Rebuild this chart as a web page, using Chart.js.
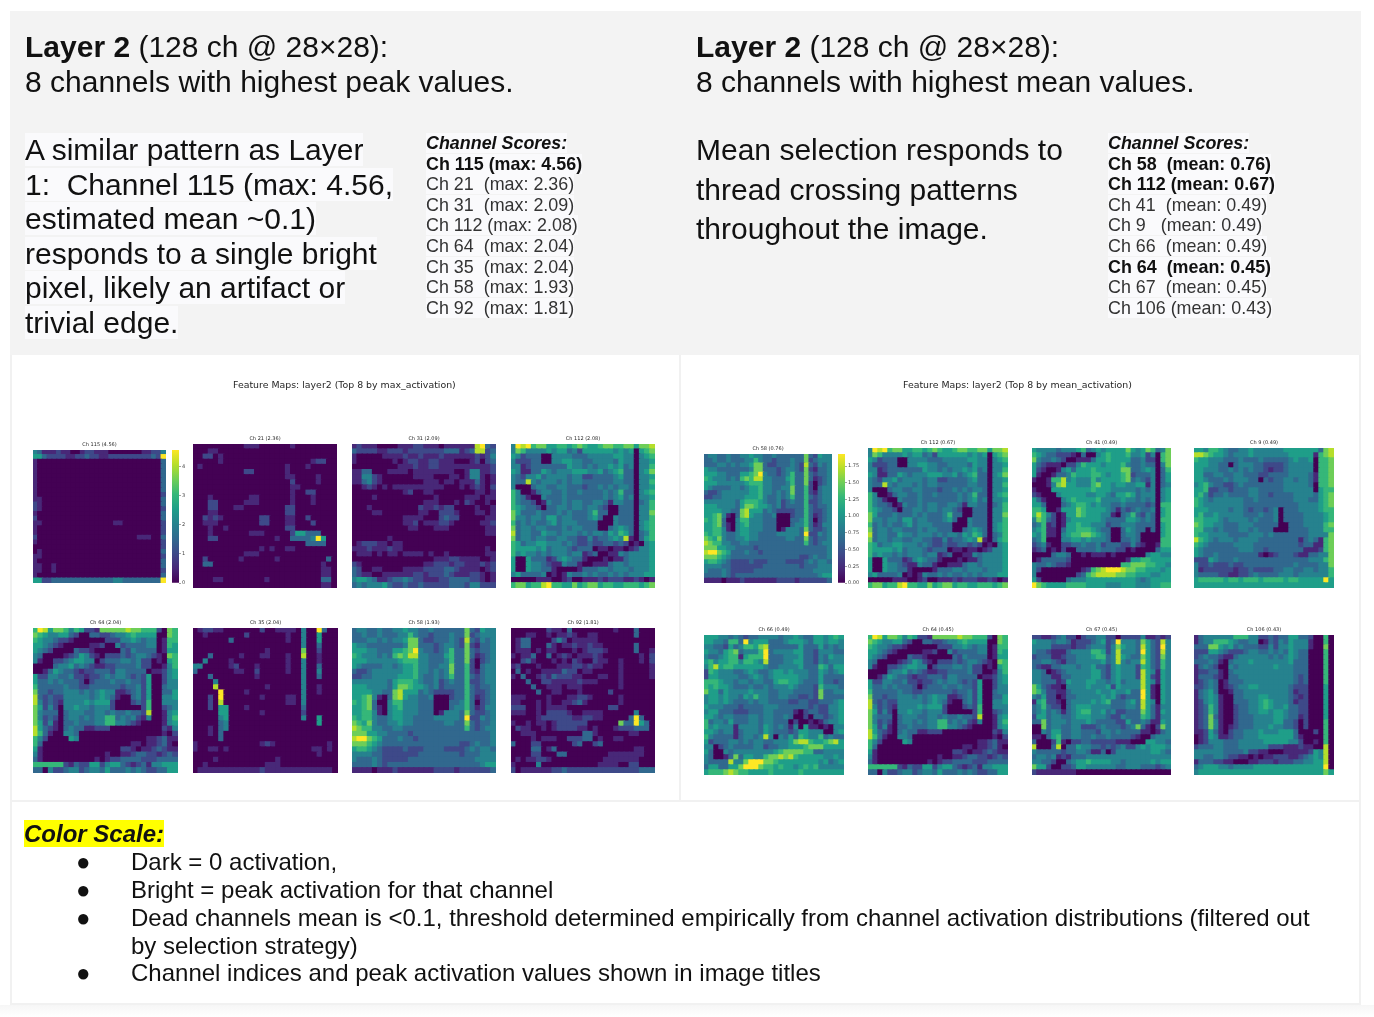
<!DOCTYPE html>
<html lang="en">
<head>
<meta charset="UTF-8">
<title>Layer 2 feature maps</title>
<script src="https://cdn.jsdelivr.net/npm/chart.js"></script>
<style>
  html, body { margin: 0; padding: 0; background: #fff; }
  body { position: relative; width: 1374px; height: 1017px; overflow: hidden; font-family: "Liberation Sans", Arial, sans-serif; color: #111; }
  .box { position: absolute; box-sizing: border-box; }
  .txt { position: absolute; white-space: pre; filter: blur(0.25px); }
  .txt span.w { background: #fafafc; }
  canvas { position: absolute; filter: blur(0.45px); }
  .head { font-size: 30px; line-height: 35px; }
  .body1 { font-size: 30px; line-height: 34.5px; }
  .body2 { font-size: 30px; line-height: 39.5px; }
  .scores { font-size: 17.9px; line-height: 20.6px; color: #333; }
  .scores span { background: #fafafc; }
  .scores b { color: #111; }
  .suptitle { font-family: "DejaVu Sans", sans-serif; font-size: 9.4px; color: #262626; filter: blur(0.3px); }
  .legend { font-size: 24px; line-height: 27.6px; }
</style>
</head>
<body>

<div class="box" style="left:10px;top:11px;width:1351px;height:344px;background:#f3f3f3"></div>
<div class="box" style="left:10px;top:355px;width:671px;height:447px;border:2px solid #f1f1f1;border-top:0"></div>
<div class="box" style="left:680px;top:355px;width:681px;height:447px;border:2px solid #f1f1f1;border-top:0;border-left:0"></div>
<div class="box" style="left:10px;top:801px;width:1351px;height:204px;border:2px solid #f1f1f1;border-top:0"></div>
<div class="box" style="left:0;top:1005px;width:1374px;height:12px;background:linear-gradient(#f6f6f6,#fff)"></div>

<div class="txt head" style="left:25px;top:29px"><b>Layer 2</b> (128 ch @ 28×28):
8 channels with highest peak values.</div>
<div class="txt head" style="left:696px;top:29px"><b>Layer 2</b> (128 ch @ 28×28):
8 channels with highest mean values.</div>

<div class="txt body1" style="left:25px;top:133px"><span class="w">A similar pattern as Layer</span>
<span class="w">1:  Channel 115 (max: 4.56,</span>
<span class="w">estimated mean ~0.1)</span>
<span class="w">responds to a single bright</span>
<span class="w">pixel, likely an artifact or</span>
<span class="w">trivial edge.</span></div>
<div class="txt body2" style="left:696px;top:130px">Mean selection responds to
thread crossing patterns
throughout the image.</div>

<div class="txt scores" style="left:426px;top:133px"><span><b><i>Channel Scores:</i></b></span>
<span><b>Ch 115 (max: 4.56)</b></span>
<span>Ch 21  (max: 2.36)</span>
<span>Ch 31  (max: 2.09)</span>
<span>Ch 112 (max: 2.08)</span>
<span>Ch 64  (max: 2.04)</span>
<span>Ch 35  (max: 2.04)</span>
<span>Ch 58  (max: 1.93)</span>
<span>Ch 92  (max: 1.81)</span></div>
<div class="txt scores" style="left:1108px;top:133px"><span><b><i>Channel Scores:</i></b></span>
<span><b>Ch 58  (mean: 0.76)</b></span>
<span><b>Ch 112 (mean: 0.67)</b></span>
<span>Ch 41  (mean: 0.49)</span>
<span>Ch 9   (mean: 0.49)</span>
<span>Ch 66  (mean: 0.49)</span>
<span><b>Ch 64  (mean: 0.45)</b></span>
<span>Ch 67  (mean: 0.45)</span>
<span>Ch 106 (mean: 0.43)</span></div>

<div class="txt suptitle" style="left:233px;top:379px">Feature Maps: layer2 (Top 8 by max_activation)</div>
<div class="txt suptitle" style="left:903px;top:379px">Feature Maps: layer2 (Top 8 by mean_activation)</div>

<div class="txt legend" style="left:24px;top:820px"><b><i style="background:#ffff00">Color Scale:</i></b></div>
<div class="txt legend" style="left:76px;top:848px">●</div>
<div class="txt legend" style="left:131px;top:848px">Dark = 0 activation,</div>
<div class="txt legend" style="left:76px;top:876px">●</div>
<div class="txt legend" style="left:131px;top:876px">Bright = peak activation for that channel</div>
<div class="txt legend" style="left:76px;top:904px">●</div>
<div class="txt legend" style="left:131px;top:904px">Dead channels mean is &lt;0.1, threshold determined empirically from channel activation distributions (filtered out
by selection strategy)</div>
<div class="txt legend" style="left:76px;top:959px">●</div>
<div class="txt legend" style="left:131px;top:959px">Channel indices and peak activation values shown in image titles</div>

<script>
// each row is 28 cells, one digit per cell: 0 = darkest .. 9 = channel peak
const ch115 = [
"4311121 1001221 1100000 0011224",
"5532222 1122322 1122222 2222329",
"1000000 0000000 0000000 0000003",
"1000000 0000000 0000000 0000003",
"1000000 0000000 0000000 0000003",
"1000000 0000000 0000000 0000003",
"1000000 0000000 0000000 0000003",
"1000000 0000000 0000000 0000003",
"1000000 0000000 0000000 0000003",
"1000000 0000000 0000000 0000002",
"1100000 0000000 0000000 0000003",
"2100000 0000000 0000000 0000003",
"2100000 0000000 0000000 0000002",
"1000000 0000000 0000000 0000003",
"2000000 0000000 0000000 0000003",
"1100000 0000000 0001100 0000002",
"1000000 0000000 0000000 0000002",
"1000000 0000000 0000000 0000002",
"2000000 0000000 0000000 0111003",
"1000000 0000000 0000000 0000002",
"0000000 0000000 0000000 0000002",
"0100000 0000000 0000000 0000003",
"1100000 0000000 0000000 0000002",
"1000000 0000000 0000000 0000003",
"1100100 0000000 0000000 0000003",
"1100100 0000000 0000000 0000002",
"1000000 0000000 0000000 0000003",
"5522333 3333333 3334433 3333339"];
const ch21 = [
"0000000 0001110 0000010 0000000",
"0001100 0000000 0000000 0000000",
"0022010 0000000 0000000 0000000",
"0000010 0000000 0000000 0012200",
"0100000 0000000 0000100 0100000",
"0000000 0002200 0000100 0000000",
"0000000 0000000 0000110 0001000",
"0000000 0000000 0000020 0001000",
"0000000 0000000 0000011 0000000",
"0000000 0000000 0000010 0220000",
"0001000 0000110 0000010 0010000",
"0002200 0001110 0000010 0010000",
"0002200 0110000 0000220 0000000",
"0001100 0000000 0000220 0000000",
"0021210 0000002 2000110 0200000",
"0011100 0000002 2000110 0020000",
"0001001 0000000 0000220 0000000",
"0001000 0000111 0000025 5333000",
"0002200 0000000 0010033 3349500",
"0000000 0000000 0000000 0333300",
"0000000 0000001 0100110 0000000",
"0000000 0001110 0000000 0000000",
"0020000 0010000 0010000 0000030",
"0033000 0000000 0000000 0000100",
"0000000 0000000 0000000 0000110",
"0000000 0000000 0000000 0000110",
"0000110 0000000 1000000 0000330",
"0000000 0000000 0000000 0000110"];
const ch31 = [
"1211100 0011122 1110111 1118932",
"3222211 2221222 2222333 1238823",
"1000001 1112112 1112111 1112124",
"1000000 0101221 1221110 0012023",
"0000000 0011121 1221111 1111112",
"1133000 1111011 1111110 0144112",
"1144210 0000011 1100011 0144101",
"1134210 0000000 1110110 1113101",
"0012101 0111111 1111000 1012102",
"0000000 0001200 1100000 0001101",
"0000100 0000000 0010000 0111011",
"0000000 0000000 1110001 0210010",
"0001000 0000002 1121220 0001001",
"0000110 0000001 1002221 0001101",
"0000000 0001111 0002322 0000011",
"0000000 0001120 1112210 0000112",
"0000000 0000110 0011100 0000011",
"0000000 0000000 0000000 0000011",
"0000000 1000000 0000000 0000000",
"0122211 0110000 0000000 0000000",
"1112111 2110000 0000000 0000010",
"0111010 1101111 0100100 0000011",
"0000000 0000000 0011122 1111001",
"2100000 0000000 1122212 2111212",
"3200110 0001111 2222332 1111012",
"3211001 1111122 1222321 1122101",
"4554311 2334322 1112233 3322101",
"3434445 3223223 2222233 3244222"];
const ch112 = [
"4989677 5566567 6556776 6775778",
"4764444 5455342 5555554 5450567",
"5423330 0444433 3444445 5440456",
"4222330 0445544 3344443 5440445",
"4412333 3333544 3434454 5340446",
"5411335 4344455 5445345 6330457",
"4324453 4444344 2233334 5330445",
"4338434 4434344 3333334 4330446",
"4000344 3344333 2334343 4430445",
"6400134 4334334 3333434 6330456",
"6431004 3334333 3333434 5340445",
"6433201 4334344 3344314 4330346",
"6543320 3344344 3443200 3330446",
"7533343 3343433 3463300 3330447",
"7443443 5534433 3453004 3330446",
"6343433 4534443 3330004 3330456",
"7344344 3334344 3330034 5430456",
"8344335 4434443 4344354 6530346",
"7344344 3344332 2423345 4810356",
"6534455 4443432 2322332 3201045",
"6555545 3444323 3301101 1012445",
"6454434 3444344 1230011 4344445",
"5005333 1245433 1000101 1344445",
"5005443 2114331 0011134 4344445",
"5005443 3100001 3334434 4434445",
"4533334 0101433 4343343 4344455",
"0000011 1001200 1112122 2112101",
"6775668 9665575 6775665 5666567"];
const ch64 = [
"6985776 4652217 7777877 6662076",
"7654455 3200332 2344565 5550076",
"6544322 1000000 2224454 3440166",
"5543210 0000112 0042333 3440165",
"5432000 0322100 0003243 3330155",
"4300001 2354210 2223234 4321076",
"4100223 4554402 3334434 2201056",
"0000344 5343211 2233334 2200146",
"0013543 3212233 3244333 3011245",
"5224433 4221223 4344323 2500245",
"5334343 3320233 3433433 2500244",
"6333334 3322333 3332334 2500344",
"7332334 4434345 4411234 2500335",
"8323224 4444345 4310034 2500445",
"8423214 4445455 5200023 2600444",
"7524204 4544344 4200000 2600234",
"7433303 4443344 3433433 2800145",
"7423203 4434344 6634342 1400146",
"7524103 3433344 6644321 0000145",
"8532103 4331122 2000000 0000214",
"8631004 4300000 0000000 0000102",
"6420000 5400000 0000000 0112311",
"6300000 0000000 0000011 0112310",
"5100000 0000000 0002210 1123211",
"4100000 0000000 1001123 3221232",
"3100000 0000010 1223333 2223333",
"6666662 1322552 4553212 3144555",
"3304223 4423443 5333434 3223355"];
const ch35 = [
"0122110 0000002 0011110 4009300",
"0010000 0002000 0000100 4005000",
"0000000 3000000 0000100 4005000",
"0000000 0000000 0000000 4003000",
"0000000 0000000 1000000 7002000",
"0003000 0010001 1000100 8001000",
"0040000 1000000 0000100 4001000",
"4400000 1200010 0000100 4003000",
"3000000 0110020 0000100 4004000",
"0003000 0000010 0000000 4003000",
"0000400 0000000 0000000 4000000",
"0000800 0000000 1000000 4001000",
"0000090 0001000 0000000 4001000",
"0002090 0000001 0000110 4000000",
"0002080 0000000 0000110 4000000",
"0002055 0001000 0000000 3000000",
"0000055 0000001 0000000 2000000",
"0000045 0000000 0000000 4005000",
"0000034 0000000 0000000 0005000",
"0001034 0000000 0000000 0000000",
"0001030 0000000 0000000 0000000",
"0000030 0000000 0000000 0000000",
"1000000 0000001 2100000 0000010",
"1001101 0000000 0000000 0011010",
"0000000 0000000 0000000 0001000",
"0000100 0000000 0010000 0000000",
"0010000 0000000 1110000 0000000",
"0111111 1111112 1111111 1111110"];
const ch58 = [
"3443343 3445443 3433333 3732544",
"3343343 3344643 3233343 3723444",
"3334434 3445773 2233343 2832434",
"5443333 3334773 3323443 2721334",
"5554433 3556794 3323463 3732334",
"6544434 3676884 4333563 3731234",
"5554444 4456664 4333463 3720234",
"5433334 4345564 4334473 3620344",
"3223444 4445564 4343473 3621344",
"2233444 4455564 3343463 3632344",
"4444444 3566654 3342343 3622344",
"5554444 3577655 4342333 3632334",
"5555443 3785553 4322223 3632234",
"5567410 3785443 3400023 3631234",
"6567300 4664443 3300033 4630234",
"5567310 4564443 3300034 4631244",
"5566410 4554443 3301444 3732234",
"6566433 4554433 3344444 3922434",
"7657433 4454433 3333443 3732334",
"8766443 3443333 3333333 3632344",
"7775544 3333233 3333333 3333334",
"8997653 3343323 3333333 3333334",
"7776543 3333333 3333333 2234334",
"5665432 2223222 3333222 2343443",
"4444332 2222223 3333333 2333444",
"4333432 2222333 3333333 3334444",
"3333432 3333333 3333333 3333455",
"1111011 1211111 1122221 2222223"];
const ch92 = [
"0000000 2110300 0000001 0003000",
"0001100 1011210 0110000 0003000",
"0133000 0242011 1110000 0000000",
"0133000 3101121 1211000 0003000",
"0111010 1100010 1222100 0003001",
"1011300 3012101 1121000 0000102",
"0023100 0101021 0021100 1000102",
"1200010 0011122 1211000 1000001",
"0301001 1113220 1100000 1000001",
"1030012 1322211 0001100 1000001",
"0003002 2111112 1110000 1000000",
"0000300 1110111 0000000 1000000",
"0000030 0110001 0000020 0000000",
"1110000 1000112 2100000 1000000",
"1100010 1001123 1000000 1000000",
"2220010 1111000 0000022 0000000",
"1110010 2222100 1111000 0004000",
"0000012 2222211 2211000 0039300",
"1001011 0122222 2000000 7339530",
"0211001 0122221 1010001 2223330",
"0011100 0000000 3310000 0011000",
"0000101 1100222 3301001 1000000",
"3000220 0000023 0023000 0000000",
"0000330 1300000 0000000 0001100",
"0000220 0033000 0000011 1111100",
"0101122 1000000 0000111 1111000",
"1000040 0000000 0001111 0022000",
"2011111 1223222 2222222 2222333"];
const ch41 = [
"5444434 4456345 4555575 4576347",
"6543322 2103004 5655564 4524067",
"7433432 0011135 5655553 3422067",
"5321110 2246555 4555643 3433047",
"5210014 5355565 5555773 3454036",
"5100133 4655566 5455672 3334035",
"1001668 4544464 5555673 4324035",
"0001478 5544467 5545544 5514034",
"1000555 5555565 5544444 3434045",
"2100045 5555445 5435565 3444045",
"5310004 5655556 4444544 3434045",
"5530003 4566545 4433433 3323066",
"6650015 5576555 5431323 4334056",
"6864201 5576555 4410346 3243056",
"4763201 4555555 4333355 4343066",
"3461201 5565544 4233444 3333056",
"4561103 5566654 3300354 3303056",
"5461104 5667765 4300344 3000056",
"3460004 4554544 4300334 3000066",
"2341002 2334334 2333224 2100166",
"1230102 0033334 3332201 0000355",
"0000344 3001011 1010000 0045544",
"0133333 2000000 0000015 5665555",
"4334322 1000000 0000667 7766554",
"4200000 0001267 8999877 6655545",
"4000000 0023678 8887766 5554455",
"5200000 3444555 5555555 4345555",
"9765555 6666555 5444555 4445566"];
const ch9 = [
"5546654 3344544 4444555 5555378",
"8876554 3444544 4444455 5551678",
"6554443 3343334 3333345 4450667",
"5554433 0344433 2222344 4440667",
"5544433 4343433 2122344 4440667",
"5533443 3443332 2333344 4431667",
"5543334 3444330 3233443 4431667",
"4564332 2343333 3333444 4430667",
"5562233 2333443 3333444 4440566",
"5642334 3333443 3233334 4443567",
"6543444 4443343 3333334 4433567",
"6544444 4443333 3333333 4444567",
"5554444 3443233 2340333 4444566",
"5644544 4443334 3340333 3444456",
"6655543 4444343 3340333 3444456",
"7655443 3344433 3330033 3444467",
"6644343 3344343 3300033 3344466",
"6554444 3333444 3433333 3344447",
"8654344 4344443 3333333 1343167",
"6543333 3444433 3333333 2331167",
"5433333 3344433 2333333 3111267",
"5433433 3333331 0123332 1133447",
"2225433 3433333 3333333 3344467",
"4223222 3223333 3333334 3333447",
"4122222 2122322 2233443 3443446",
"4333322 1122343 3334443 4444446",
"5666665 6656665 6666566 5555595",
"5555555 5555555 5555555 5555555"];
const ch66 = [
"5554434 3233444 4344543 3554565",
"5544366 3945553 3345554 3554554",
"4433253 4665783 3333353 3353434",
"5443567 3444693 4444553 3244433",
"4334566 1566693 3344453 3243544",
"5645566 4665483 3344553 3243444",
"4685665 5555543 3444453 3365355",
"2654443 3454334 5545444 3354345",
"2554444 3345434 5555544 3353333",
"6665443 4434433 5665543 3353323",
"6565543 3343343 4445433 3264443",
"7553544 4454443 3444333 3273344",
"4554544 3546443 3443322 3273333",
"4554543 3343443 3332233 2233345",
"5444333 2333344 4333333 2322445",
"4553332 2233344 3333102 3322445",
"5543443 3344344 3343002 0332345",
"6344353 3344344 3330200 1013445",
"6454441 4444354 3431405 1101044",
"5543441 3444354 3332355 4440045",
"6433331 3443484 0435365 4463433",
"5233344 3434433 4445788 6556785",
"4402343 3334423 3445556 7775555",
"5300434 4444444 5677776 6334444",
"4300137 3554467 7878655 5554454",
"4333384 4799977 6555555 5545345",
"3553355 7999766 5655456 5644444",
"5666787 6655556 5555565 5555555"];
const ch67 = [
"2211234 2202334 4220222 2411212",
"5444344 3122234 5239444 3753284",
"4444222 2122344 4247544 3853294",
"4332111 3444466 5248444 3953284",
"2333112 3344456 6348543 3753274",
"3344321 3344444 5348434 4853264",
"3211334 4434453 3245444 2653264",
"4430123 4444455 3245444 2854154",
"4433113 3444455 3245444 2852154",
"4433312 5444554 4345344 4854154",
"7532110 4444544 4525444 4851054",
"7642211 3444445 4454453 3951054",
"4352201 3344444 5453233 3951054",
"1562210 3444454 5633345 3854054",
"3463220 3455544 4433344 3853144",
"3453431 3456644 5342233 3753154",
"2553443 3455544 4322433 3653144",
"3373444 3444543 3332253 3431154",
"0073443 3442223 4333234 7310274",
"0043553 3443332 4434333 3110134",
"1103563 3443343 3433332 1003444",
"3000261 0223322 2221110 0055443",
"8000380 3354433 2323422 4545554",
"4333332 3344311 3024444 4445543",
"3443412 1333444 4444444 4444444",
"4433200 3455655 5544344 4445455",
"7552002 2355444 4443344 4333234",
"2111111 1100000 0000000 0000000"];
const ch106 = [
"1344444 4666442 2323355 3320060",
"1344666 5433440 1324354 4410060",
"3337754 5343332 2424454 4410070",
"2225543 2223443 3434354 3300060",
"2343321 1344444 4343454 3300060",
"3334310 3444544 4444453 3300060",
"1343200 4344444 4454443 3300060",
"1223310 3444444 4444443 3300060",
"1333210 3344444 4444443 2300060",
"1234301 3334444 4444443 2300060",
"2234301 2344554 4444432 2200050",
"1345300 1334444 4444431 2200050",
"1345410 0334445 5444432 1200050",
"1245410 0333445 6544431 2200050",
"1236410 0233445 6544533 2200050",
"1236410 0233445 5455433 2200050",
"1237310 0233344 4455433 1200050",
"1237410 0233344 4455332 0200060",
"1237410 1233344 4544332 0200060",
"1125310 2334445 4445553 0002060",
"0125411 2334445 5555553 1000060",
"0124443 3344444 5555544 2001060",
"2333443 3344444 4222111 2110080",
"4444443 3334221 1000111 1125480",
"4433443 2211010 1122211 2345480",
"1333221 1000112 2212223 3445580",
"3455544 3444455 5555555 5555590",
"4555555 5555555 5555555 5555575"];

// panel order, peak values and colour bar ticks
const channelNames = ["Ch 115", "Ch 21", "Ch 31", "Ch 112", "Ch 64", "Ch 35", "Ch 58", "Ch 92"];
const peakValues = [4.56, 2.36, 2.09, 2.08, 2.04, 2.04, 1.93, 1.81];
const channelRows = [ch115, ch21, ch31, ch112, ch64, ch35, ch58, ch92];
const channelNames2 = ["Ch 58", "Ch 112", "Ch 41", "Ch 9", "Ch 66", "Ch 64", "Ch 67", "Ch 106"];
const meanValues = [0.76, 0.67, 0.49, 0.49, 0.49, 0.45, 0.45, 0.43];
const channelRows2 = [ch58, ch112, ch41, ch9, ch66, ch64, ch67, ch106];
const peakValues2 = [1.93, 2.08, 1.6, 1.5, 1.6, 2.04, 1.5, 1.5];

const viridis = ['#440154','#482878','#3e4989','#31688e','#26828e','#1f9e89','#35b779','#6ece58','#b5de2b','#fde725'];

// left, top, width, height of the plot area of each panel
const leftBoxes = [[33,450,133,133],[193,444,144,144],[352,444,144,144],[511,444,144,144],
                   [33,628,145,145],[193,628,145,145],[352,628,144,145],[511,628,144,145]];
const rightBoxes = [[704,454,128,129],[868,448,140,140],[1032,448,139,140],[1194,448,140,140],
                    [704,635,140,140],[868,635,140,140],[1032,635,139,140],[1194,635,140,140]];

function addCanvas(x, y, w, h) {
  const c = document.createElement('canvas');
  c.width = w; c.height = h;
  c.style.left = x + 'px'; c.style.top = y + 'px';
  c.style.width = w + 'px'; c.style.height = h + 'px';
  document.body.appendChild(c);
  return c;
}

function drawPanel(rows, title, peak, box) {
  const points = [], colours = [];
  rows.forEach((row, y) => {
    row.replace(/ /g, '').split('').forEach((d, x) => {
      const value = d / 9 * peak;
      points.push({ x: x, y: y, v: value });
      colours.push(viridis[Math.round(value / peak * 9)]);
    });
  });
  const titleH = 9;
  const canvas = addCanvas(box[0], box[1] - titleH, box[2], box[3] + titleH);
  // a bit bigger than the cell so no white seams show between squares
  const radius = (box[2] / 28 + 1.4) / Math.SQRT2;
  new Chart(canvas, {
    type: 'scatter',
    data: { datasets: [{ data: points, pointStyle: 'rect', pointRadius: radius, pointBorderWidth: 0,
                         pointBackgroundColor: colours, borderWidth: 0 }] },
    options: {
      responsive: false,
      animation: false,
      layout: { padding: 0, autoPadding: false },
      plugins: {
        legend: { display: false },
        tooltip: { enabled: false },
        title: { display: true, text: title, color: '#262626', padding: { top: 1, bottom: 2 },
                 font: { family: 'DejaVu Sans', size: 5, weight: 'normal', lineHeight: 1.2 } }
      },
      scales: {
        x: { display: false, min: -0.5, max: 27.5 },
        y: { display: false, min: -0.5, max: 27.5, reverse: true }
      }
    }
  });
}

function drawColorBar(x, y, h, max, ticks, digits) {
  const pad = 4, barW = 7, axisW = 16;
  const canvas = addCanvas(x, y - pad, barW + axisW, h + pad * 2);
  new Chart(canvas, {
    type: 'bar',
    data: { labels: ['scale'], datasets: [{
      data: [[0, max]],
      barPercentage: 1, categoryPercentage: 1,
      backgroundColor: c => {
        const area = c.chart.chartArea;
        if (!area) return viridis[0];
        const g = c.chart.ctx.createLinearGradient(0, area.bottom, 0, area.top);
        viridis.forEach((col, i) => g.addColorStop(i / (viridis.length - 1), col));
        return g;
      }
    }] },
    options: {
      responsive: false,
      animation: false,
      layout: { padding: { top: pad, bottom: pad } },
      plugins: { legend: { display: false }, tooltip: { enabled: false } },
      scales: {
        x: { display: false },
        y: {
          position: 'right', min: 0, max: max,
          afterFit: s => { s.width = axisW; },
          afterBuildTicks: s => { s.ticks = ticks.map(v => ({ value: v })); },
          grid: { drawOnChartArea: false, tickLength: 2, tickWidth: 0.5, color: '#444' },
          border: { display: false },
          ticks: { color: '#444', padding: 1, maxRotation: 0, autoSkip: false,
                   font: { family: 'DejaVu Sans', size: 5 },
                   callback: v => v.toFixed(digits) }
        }
      }
    }
  });
}

channelRows.forEach((rows, i) => {
  drawPanel(rows, channelNames[i] + ' (' + peakValues[i].toFixed(2) + ')', peakValues[i], leftBoxes[i]);
});
channelRows2.forEach((rows, i) => {
  drawPanel(rows, channelNames2[i] + ' (' + meanValues[i].toFixed(2) + ')', peakValues2[i], rightBoxes[i]);
});

const barTicks1 = [0, 1, 2, 3, 4];
const barTicks2 = [0, 0.25, 0.5, 0.75, 1, 1.25, 1.5, 1.75];
drawColorBar(172, 450, 133, 4.56, barTicks1, 0);
drawColorBar(838, 454, 129, 1.93, barTicks2, 2);
</script>
</body>
</html>
